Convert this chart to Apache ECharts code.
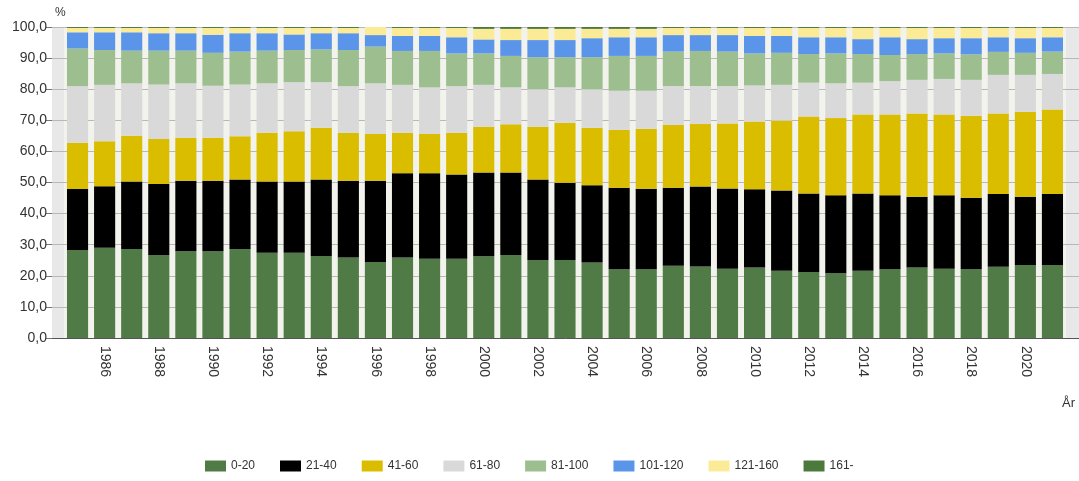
<!DOCTYPE html>
<html>
<head>
<meta charset="utf-8">
<script src="https://cdn.jsdelivr.net/npm/echarts@6/dist/echarts.min.js"></script>
<style>html,body{margin:0;padding:0;background:#fff}#c{width:1079px;height:481px}</style>
</head>
<body>
<div id="c"></div>
<script>
const years = ['1985','1986','1987','1988','1989','1990','1991','1992','1993','1994','1995','1996','1997','1998','1999','2000','2001','2002','2003','2004','2005','2006','2007','2008','2009','2010','2011','2012','2013','2014','2015','2016','2017','2018','2019','2020','2021'];
const seriesNames = ['0-20','21-40','41-60','61-80','81-100','101-120','121-160','161-'];
const colors = ['#507b47','#000000','#dbbd00','#d9d9d9','#9dbf8f','#5b95e9','#fbeb97','#4b7a3c'];
const v0_20 = [28.3,29.0,28.6,26.7,27.9,27.9,28.6,27.4,27.4,26.4,25.9,24.4,25.9,25.5,25.5,26.3,26.7,25.1,25.1,24.3,22.1,22.1,23.2,23.0,22.3,22.7,21.6,21.2,20.8,21.6,22.1,22.7,22.3,22.1,22.9,23.5,23.5];
const v21_40 = [19.6,19.8,21.7,22.8,22.7,22.7,22.4,22.9,22.9,24.6,24.7,26.2,27.1,27.5,27.1,26.9,26.5,25.9,24.8,24.8,26.2,25.9,25.1,25.7,25.8,25.1,25.8,25.3,25.1,24.9,23.8,22.7,23.6,23.0,23.4,21.9,22.8];
const v41_60 = [14.9,14.5,14.7,14.5,13.8,13.8,13.9,15.7,16.2,16.6,15.4,15.0,13.0,12.6,13.4,14.7,15.5,16.9,19.3,18.5,18.6,19.3,20.2,20.1,20.9,21.8,22.5,24.7,24.8,25.4,26.0,26.8,26.0,26.4,25.9,27.3,27.2];
const v61_80 = [18.2,18.1,16.9,17.5,17.5,16.7,16.6,15.9,15.8,14.7,15.0,16.3,15.4,15.0,15.0,13.5,11.9,12.1,11.4,12.4,12.6,12.2,12.5,12.2,12.0,11.6,11.5,10.9,11.2,10.2,10.7,10.8,11.4,11.5,12.4,11.9,11.4];
const v81_100 = [12.1,11.2,10.5,10.9,10.5,10.6,10.6,10.5,10.3,10.5,11.6,11.8,10.9,11.7,10.5,10.1,10.1,10.3,9.7,10.3,11.2,11.2,11.1,11.3,11.1,10.3,10.3,9.2,9.6,9.2,8.4,8.3,8.2,8.2,7.4,7.1,7.2];
const v101_120 = [5.2,5.7,5.9,5.6,5.6,5.8,5.9,5.6,5.0,5.2,5.4,3.7,4.8,4.8,5.2,4.5,5.1,5.5,5.5,6.1,6.0,6.0,5.3,5.1,5.3,5.6,5.4,5.4,5.2,4.8,5.7,4.8,4.9,5.2,4.7,4.7,4.6];
const v121_160 = [1.4,1.4,1.4,1.7,1.7,2.2,1.7,1.7,2.1,1.7,1.7,2.6,2.6,2.6,3.0,3.4,3.6,3.6,3.6,3.0,2.7,2.7,2.3,2.3,2.3,2.6,2.6,3.0,3.0,3.6,3.0,3.6,3.3,3.3,3.0,3.3,3.0];
const v161 = [0.3,0.3,0.3,0.3,0.3,0.3,0.3,0.3,0.3,0.3,0.3,0.0,0.3,0.3,0.3,0.6,0.6,0.6,0.6,0.6,0.6,0.6,0.3,0.3,0.3,0.3,0.3,0.3,0.3,0.3,0.3,0.3,0.3,0.3,0.3,0.3,0.3];
const yTicks = [0,10,20,30,40,50,60,70,80,90,100];

const allValues = [v0_20,v21_40,v41_60,v61_80,v81_100,v101_120,v121_160,v161];

const chart = echarts.init(document.getElementById('c'));
const font = 'Arial, "Liberation Sans", sans-serif';
chart.setOption({
  animation: false,
  textStyle: { fontFamily: font },
  grid: [
    { left: 52, right: 0, top: 27, bottom: 143, show: true, backgroundColor: '#e8e8e8', borderWidth: 0, z: -2 },
    { left: 64, right: 13, top: 27, bottom: 143, show: true, backgroundColor: '#f3f3ee', borderWidth: 0, z: -1 }
  ],
  xAxis: [
    { type: 'value', gridIndex: 0, min: 0, max: 1, axisLine: { show: true, lineStyle: { color: '#555', width: 1 } },
      axisTick: { show: false }, axisLabel: { show: false }, splitLine: { show: false } },
    { type: 'category', gridIndex: 1, data: years, axisLine: { show: false }, axisTick: { show: false },
      axisLabel: { rotate: -90, margin: 8, fontSize: 14, color: '#333', interval: 0,
        formatter: (v, i) => (i % 2 === 1 ? v : '') } }
  ],
  yAxis: [
    { type: 'value', gridIndex: 0, min: yTicks[0], max: yTicks[yTicks.length - 1], interval: 10,
      name: '%', nameLocation: 'end', nameGap: 8, nameTextStyle: { align: 'left', fontSize: 12, color: '#333', padding: [0,0,0,3] },
      axisLine: { show: false }, axisTick: { show: true, length: 6, lineStyle: { color: '#777' } },
      axisLabel: { fontSize: 14, color: '#333', margin: 5, formatter: v => v.toFixed(1).replace('.', ',') },
      splitLine: { show: true, lineStyle: { color: '#b8b8b8', width: 1 } } },
    { type: 'value', gridIndex: 1, min: 0, max: 100, show: false }
  ],
  legend: {
    left: 200, top: 455, icon: 'rect', itemWidth: 21, itemHeight: 11, itemGap: 25,
    textStyle: { fontSize: 12, color: '#333' },
    data: seriesNames
  },
  graphic: [
    { type: 'text', left: 1062, top: 397, style: { text: 'År', fontSize: 13, fill: '#333', font: '13px ' + font } }
  ],
  series: seriesNames.map((n, i) => ({
    name: n, type: 'bar', stack: 'total', xAxisIndex: 1, yAxisIndex: 1,
    barCategoryGap: '22%', itemStyle: { color: colors[i] }, data: allValues[i]
  }))
});
</script>
</body>
</html>
